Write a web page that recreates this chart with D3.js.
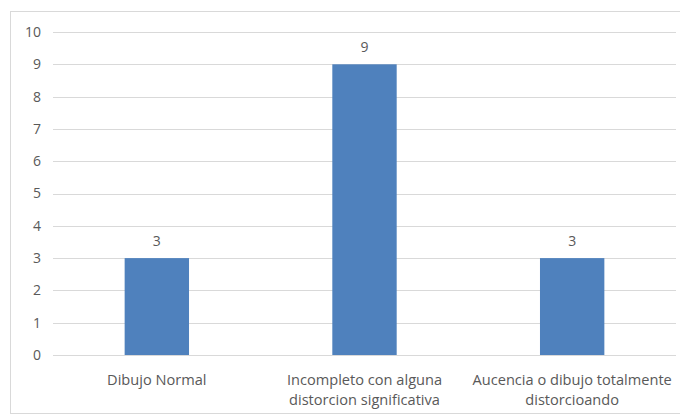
<!DOCTYPE html>
<html>
<head>
<meta charset="utf-8">
<script src="https://cdn.jsdelivr.net/npm/d3@7"></script>
<style>
  body { margin: 0; background: #fff; }
  text { font-family: "Open Sans", sans-serif; fill: #595959; }
</style>
</head>
<body>
<div id="chart"></div>
<script>
// chart data
var categories = [
    ["Dibujo Normal"],
    ["Incompleto con alguna", "distorcion significativa"],
    ["Aucencia o dibujo totalmente", "distorcioando"]
];
var values = [3, 9, 3];
var yTicks = [0, 1, 2, 3, 4, 5, 6, 7, 8, 9, 10];

var width = 680,
    height = 415;
var margin = { top: 32, right: 4, bottom: 60, left: 53 };

var svg = d3.select("#chart")
    .append("svg")
    .attr("width", width)
    .attr("height", height);

// outer chart border (cut off on the right, like the picture)
svg.append("rect")
    .attr("x", 10.5)
    .attr("y", 11.5)
    .attr("width", 700)
    .attr("height", 402)
    .attr("fill", "none")
    .attr("stroke", "#d9d9d9");

var x = d3.scaleBand()
    .domain(d3.range(categories.length))
    .range([margin.left, width - margin.right])
    .paddingInner(0.69)
    .paddingOuter(0.345);

var y = d3.scaleLinear()
    .domain([0, 10])
    .range([height - margin.bottom, margin.top]);

// gridlines
svg.append("g")
    .selectAll("line")
    .data(yTicks)
    .enter()
    .append("line")
    .attr("x1", margin.left)
    .attr("x2", width - margin.right)
    .attr("y1", function (d) { return Math.round(y(d)) + 0.5; })
    .attr("y2", function (d) { return Math.round(y(d)) + 0.5; })
    .attr("stroke", "#d9d9d9");

// y tick labels
svg.append("g")
    .selectAll("text")
    .data(yTicks)
    .enter()
    .append("text")
    .attr("x", 41)
    .attr("y", function (d) { return y(d); })
    .attr("dy", "0.35em")
    .attr("text-anchor", "end")
    .style("font-size", "14px")
    .text(function (d) { return d; });

// bars
svg.append("g")
    .selectAll("rect")
    .data(values)
    .enter()
    .append("rect")
    .attr("x", function (d, i) { return x(i); })
    .attr("y", function (d) { return y(d); })
    .attr("width", x.bandwidth())
    .attr("height", function (d) { return y(0) - y(d); })
    .attr("fill", "#4f81bd");

// value labels
svg.append("g")
    .selectAll("text")
    .data(values)
    .enter()
    .append("text")
    .attr("x", function (d, i) { return x(i) + x.bandwidth() / 2; })
    .attr("y", function (d) { return y(d) - 12; })
    .attr("text-anchor", "middle")
    .style("font-size", "14px")
    .text(function (d) { return d; });

// category labels
var labels = svg.append("g")
    .selectAll("text")
    .data(categories)
    .enter()
    .append("text")
    .attr("x", function (d, i) { return x(i) + x.bandwidth() / 2; })
    .attr("y", 385)
    .attr("text-anchor", "middle")
    .style("font-size", "14.6px");

labels.selectAll("tspan")
    .data(function (d) { return d; })
    .enter()
    .append("tspan")
    .attr("x", function () { return d3.select(this.parentNode).attr("x"); })
    .attr("dy", function (d, i) { return i === 0 ? 0 : 20; })
    .text(function (d) { return d; });
</script>
</body>
</html>
